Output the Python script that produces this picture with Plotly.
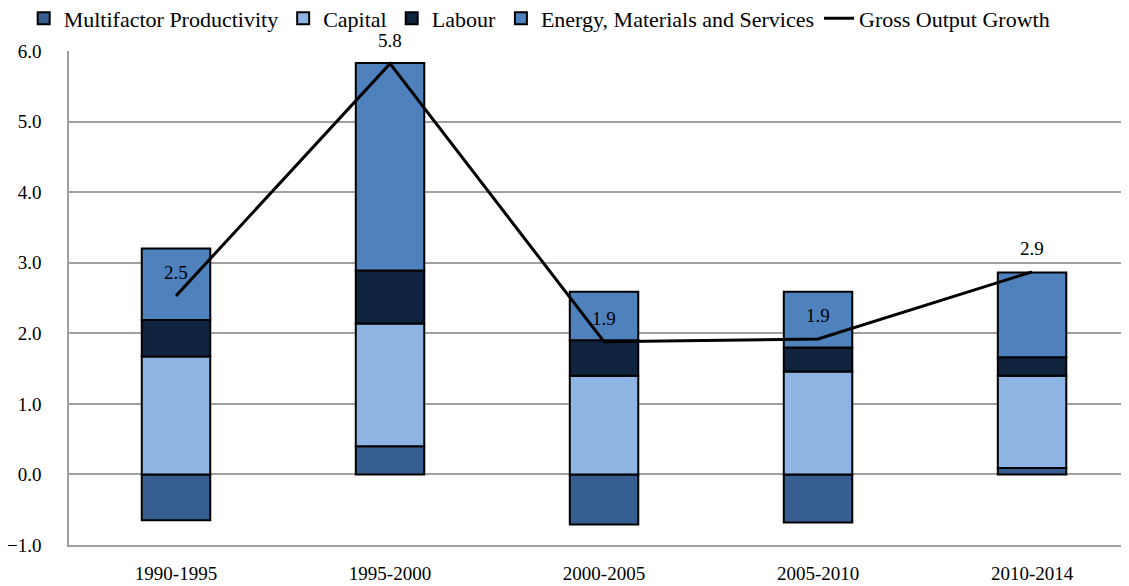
import plotly.graph_objects as go

periods = ["1990-1995", "1995-2000", "2000-2005", "2005-2010", "2010-2014"]
mfp = [-0.65, 0.40, -0.71, -0.68, 0.09]
capital = [1.67, 1.74, 1.40, 1.46, 1.31]
labour = [0.52, 0.75, 0.50, 0.34, 0.26]
ems = [1.01, 2.94, 0.69, 0.79, 1.20]
gross = [2.53, 5.82, 1.88, 1.92, 2.87]
gross_labels = ["2.5", "5.8", "1.9", "1.9", "2.9"]
y_ticks = [-1, 0, 1, 2, 3, 4, 5, 6]

FONT = "Liberation Serif, Times New Roman, serif"
fig = go.Figure()
bar_series = [
    ("Multifactor Productivity", mfp, "#375E90"),
    ("Capital", capital, "#8EB4E3"),
    ("Labour", labour, "#10243F"),
    ("Energy, Materials and Services", ems, "#4F81BD"),
]
for name, vals, col in bar_series:
    fig.add_trace(go.Bar(
        name=name, x=periods, y=vals, width=0.32,
        marker=dict(color=col, line=dict(color="#000000", width=2)),
    ))
fig.add_trace(go.Scatter(
    name="Gross Output Growth", x=periods, y=gross, mode="lines",
    line=dict(color="#000000", width=3), cliponaxis=False,
))
for p, g, lab in zip(periods, gross, gross_labels):
    fig.add_annotation(x=p, y=g, text=lab, showarrow=False, yshift=23,
                       font=dict(family=FONT, size=19, color="#000000"))

# page body has an 8px margin, so the figure is sized to end at the window edge
fig.update_layout(
    width=1121, height=578,
    barmode="relative",
    margin=dict(l=61, r=0, t=43, b=41, autoexpand=False),
    plot_bgcolor="white", paper_bgcolor="white",
    font=dict(family=FONT, size=19, color="#000000"),
    legend=dict(orientation="h", x=0.014, xref="container", y=0.982, yref="container",
                yanchor="middle", xanchor="left",
                font=dict(family=FONT, size=22, color="#000000"), itemwidth=30,
                bgcolor="rgba(0,0,0,0)", traceorder="normal"),
    showlegend=True,
)
fig.update_xaxes(
    range=[-0.5, 4.453], showgrid=False, showline=True, linecolor="#A0A0A0",
    linewidth=1.5, ticks="", tickfont=dict(family=FONT, size=19),
    ticklabelstandoff=10, automargin=False,
)
fig.update_yaxes(
    range=[-1, 6], tickvals=y_ticks, tickformat=".1f",
    showgrid=True, gridcolor="#A0A0A0", gridwidth=1.5,
    zeroline=True, zerolinecolor="#A0A0A0", zerolinewidth=1.5,
    showline=True, linecolor="#A0A0A0", linewidth=1.5,
    ticks="", tickfont=dict(family=FONT, size=19), ticklabelstandoff=22,
    automargin=False,
)
fig.write_html("out.html")
